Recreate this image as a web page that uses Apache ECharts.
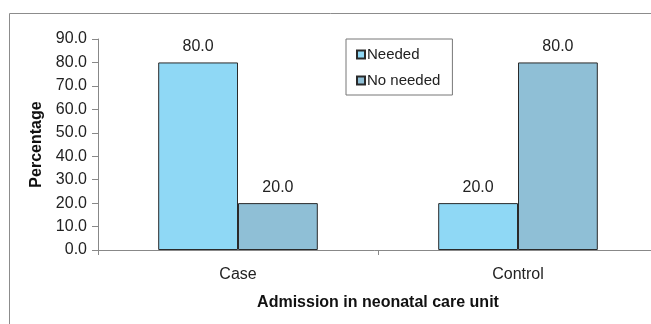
<!DOCTYPE html>
<html>
<head>
<meta charset="utf-8">
<script src="https://cdn.jsdelivr.net/npm/echarts@6/dist/echarts.min.js"></script>
<style>
  html, body { margin: 0; padding: 0; background: #fff; }
  #chart { width: 651px; height: 324px; }
</style>
</head>
<body>
<div id="chart"></div>
<script>
const groups = ['Case', 'Control'];
const needed = [80.0, 20.0];
const noNeeded = [20.0, 80.0];
const seriesNames = ['Needed', 'No needed'];

const myChart = echarts.init(document.getElementById('chart'));
const font = 'Liberation Sans, Arial, sans-serif';

const option = {
  animation: false,
  textStyle: { fontFamily: font },
  graphic: [{
    type: 'rect',
    shape: { x: 9.5, y: 13.5, width: 700, height: 400 },
    style: { fill: 'none', stroke: '#8c8c8c', lineWidth: 1 },
    silent: true
  }],
  // plot runs a little past the right edge, like the cropped original
  grid: { left: 98, width: 560, top: 39, bottom: 74, outerBoundsMode: 'none' },
  legend: {
    orient: 'vertical',
    left: 346,
    top: 39,
    data: seriesNames,
    icon: 'rect',
    itemWidth: 8,
    itemHeight: 8,
    itemGap: 11,
    padding: [8, 12, 7, 10],
    borderColor: '#777',
    borderWidth: 1,
    backgroundColor: '#fff',
    textStyle: { fontSize: 15, color: '#222', padding: [0, 0, 0, -3] }
  },
  xAxis: {
    type: 'category',
    data: groups,
    name: 'Admission in neonatal care unit',
    nameLocation: 'middle',
    nameGap: 45,
    nameTextStyle: { fontSize: 16, fontWeight: 'bold', color: '#111' },
    axisLine: { lineStyle: { color: '#888' } },
    axisTick: { show: true, length: 5, lineStyle: { color: '#888' } },
    axisLabel: { fontSize: 16, color: '#222', margin: 17 }
  },
  yAxis: {
    type: 'value',
    min: 0,
    max: 90,
    interval: 10,
    name: 'Percentage',
    nameLocation: 'middle',
    nameGap: 53,
    nameTextStyle: { fontSize: 16, fontWeight: 'bold', color: '#111' },
    axisLine: { show: true, lineStyle: { color: '#888' } },
    axisTick: { show: true, length: 6, lineStyle: { color: '#888' } },
    splitLine: { show: false },
    axisLabel: {
      fontSize: 16,
      color: '#222',
      margin: 11,
      formatter: v => v.toFixed(1)
    }
  },
  series: [
    {
      name: seriesNames[0],
      type: 'bar',
      data: needed,
      barGap: '0%',
      barCategoryGap: '43%',
      itemStyle: { color: '#8fd8f5', borderColor: '#2a2a2a', borderWidth: 1 },
      label: {
        show: true,
        position: 'top',
        distance: 8,
        fontSize: 16,
        color: '#222',
        formatter: p => p.value.toFixed(1)
      }
    },
    {
      name: seriesNames[1],
      type: 'bar',
      data: noNeeded,
      itemStyle: { color: '#8fbfd6', borderColor: '#2a2a2a', borderWidth: 1 },
      label: {
        show: true,
        position: 'top',
        distance: 8,
        fontSize: 16,
        color: '#222',
        formatter: p => p.value.toFixed(1)
      }
    }
  ]
};

myChart.setOption(option);
</script>
</body>
</html>
